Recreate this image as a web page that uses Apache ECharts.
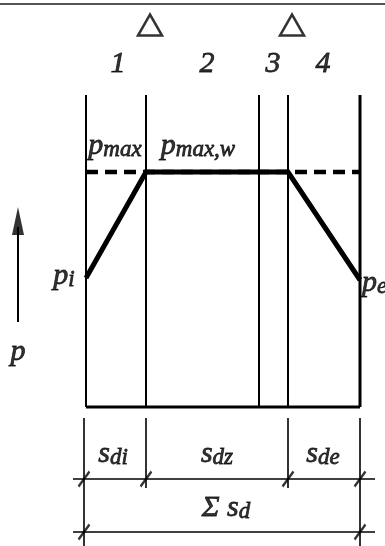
<!DOCTYPE html>
<html>
<head>
<meta charset="utf-8">
<script src="https://cdn.jsdelivr.net/npm/echarts@6/dist/echarts.min.js"></script>
<style>
  html, body { margin: 0; padding: 0; background: #fff; }
  #chart { width: 385px; height: 546px; }
</style>
</head>
<body>
<div id="chart"></div>
<script>
// diagram units: x across the zones, y downward (same scale as page)
var zoneWalls = [86, 146, 259, 288, 360]
var wallTop = 95
var wallBottom = 407
var pMaxLevel = 172
var pressureX = [86, 146, 288, 360]
var pressureY = [278, 172, 172, 280]
var zoneNames = ['1', '2', '3', '4']
var zoneNameX = [118, 207, 273, 323]
var zoneNameY = 68
var markerX = [150, 292]
var markerY = 25
var dimEdges = [84, 146, 288, 360]
var dimLong = [true, false, false, true]
var dimTop = 418
var dimRow1 = 479
var dimRow2 = 532
var dimShortEnd = 488
var dimNames = ['{m|s}{s|di}', '{m|s}{s|dz}', '{m|s}{s|de}']
var dimNameX = [113, 217, 323]
var dimNameY = 458
var sumName = '{m|Σ s}{s|d}'
var sumPos = [226, 512]
var pressureLabels = [
  { text: '{m|p}{s|max}', pos: [115, 150] },
  { text: '{m|p}{s|max,w}', pos: [198, 150] },
  { text: '{m|p}{s|i}', pos: [64, 280] },
  { text: '{m|p}{s|e}', pos: [362, 287], align: 'left' },
  { text: '{m|p}', pos: [18, 356] }
]
var arrowX = 18
var arrowTail = 322
var arrowHead = 207

var serif = 'Liberation Serif'
var ink = '#000'

var textStyle = { fontFamily: serif, fontStyle: 'italic', color: ink, textBorderColor: ink, textBorderWidth: 0.8 }
var richText = {
  m: Object.assign({ fontSize: 30, padding: [0, 0, 7, 0] }, textStyle),
  s: Object.assign({ fontSize: 23 }, textStyle)
}

function seg(a, b, style) {
  return {
    type: 'line', data: [a, b], symbol: 'none', silent: true,
    lineStyle: Object.assign({ color: ink, width: 2 }, style || {})
  }
}

var series = []

// zone walls
zoneWalls.forEach(function(x) {
  series.push(seg([x, wallTop], [x, wallBottom], { width: x === 360 ? 3 : 2 }))
})
// base
series.push(seg([zoneWalls[0], wallBottom], [zoneWalls[4], wallBottom], { width: 3 }))
// p max dashed
series.push(seg([zoneWalls[0], pMaxLevel], [zoneWalls[4], pMaxLevel], { width: 4.5, type: [12, 7] }))
// pressure profile
series.push({
  type: 'line', symbol: 'none', silent: true,
  data: pressureX.map(function(x, i) { return [x, pressureY[i]] }),
  lineStyle: { color: ink, width: 5, join: 'miter' }
})

// dimension lines
dimEdges.forEach(function(x, i) {
  series.push(seg([x, dimTop], [x, dimLong[i] ? 546 : dimShortEnd], { width: 1.6 }))
})
series.push(seg([73, dimRow1], [375, dimRow1], { width: 1.6 }))
series.push(seg([73, dimRow2], [375, dimRow2], { width: 1.6 }))

var ticks = dimEdges.map(function(x) { return [x, dimRow1] })
  .concat([[dimEdges[0], dimRow2], [dimEdges[3], dimRow2]])
series.push({
  type: 'scatter', silent: true, data: ticks,
  symbol: 'path://M0 16L12 0', symbolSize: [11, 15],
  itemStyle: { color: 'none', borderColor: ink, borderWidth: 2.5 }
})

// triangles
series.push({
  type: 'scatter', silent: true,
  data: markerX.map(function(x) { return [x, markerY] }),
  symbol: 'triangle', symbolSize: [24, 21],
  itemStyle: { color: '#fff', borderColor: ink, borderWidth: 2.5 }
})

// arrow
series.push(seg([arrowX, arrowTail], [arrowX, arrowHead + 20], { width: 2 }))
series.push({
  type: 'scatter', silent: true,
  data: [[arrowX, arrowHead + 14]],
  symbol: 'triangle', symbolSize: [12, 28],
  itemStyle: { color: ink }
})

// text labels
function textPoint(pos, text, align) {
  return {
    value: pos,
    label: {
      show: true, position: 'inside', formatter: text, rich: richText,
      align: align || 'center', color: ink, textBorderWidth: 0
    }
  }
}
var labelData = []
zoneNames.forEach(function(n, i) {
  labelData.push(textPoint([zoneNameX[i], zoneNameY], '{m|' + n + '}'))
})
pressureLabels.forEach(function(l) {
  labelData.push(textPoint(l.pos, l.text, l.align))
})
dimNames.forEach(function(n, i) {
  labelData.push(textPoint([dimNameX[i], dimNameY], n))
})
labelData.push(textPoint(sumPos, sumName))
series.push({
  type: 'scatter', silent: true, symbol: 'circle', symbolSize: 1,
  itemStyle: { color: 'rgba(0,0,0,0)' },
  data: labelData,
  label: { show: true }
})

var chart = echarts.init(document.getElementById('chart'))
chart.setOption({
  animation: false,
  backgroundColor: '#fff',
  grid: { left: 0, right: 0, top: 0, bottom: 0 },
  xAxis: { type: 'value', min: 0, max: 385, show: false },
  yAxis: { type: 'value', min: 0, max: 546, inverse: true, show: false },
  graphic: [{
    type: 'line', shape: { x1: 0, y1: 4, x2: 385, y2: 4 },
    style: { stroke: '#555', lineWidth: 2 }
  }],
  series: series
})
</script>
</body>
</html>
